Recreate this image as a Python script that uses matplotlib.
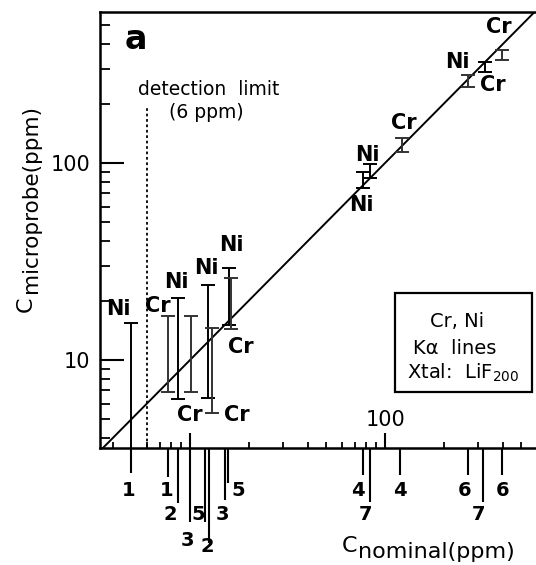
import numpy as np
import matplotlib
matplotlib.use('Agg')
import matplotlib.pyplot as plt
import matplotlib.transforms as mtransforms
from matplotlib.patches import Rectangle

# datos (ppm)
ni_nominal = [5.0, 8.7, 12.4, 15.8, 77, 83.7, 326]
ni_low = [1.0, 6.3, 6.4, 15.0, 74.6, 84, 290]
ni_high = [15.4, 20.6, 24.0, 29.3, 90, 98.9, 326]

cr_nominal = [7.7, 10.1, 13.0, 16.2, 122, 267, 398]
cr_low = [6.9, 6.9, 5.4, 14.4, 114, 243, 333]
cr_high = [16.7, 16.7, 14.5, 26.0, 134, 280, 375]

# etiquetas de los puntos
pt_text = ['Ni', 'Cr', 'Ni', 'Ni', 'Ni', 'Cr', 'Cr', 'Cr',
           'Ni', 'Ni', 'Cr', 'Ni', 'Cr', 'Cr']
pt_x = [4.3, 6.8, 8.5, 12.1, 16.2, 18.3, 10.0, 17.4,
        80.9, 75.4, 124, 234, 358, 385]
pt_y = [18.2, 18.8, 24.9, 29.3, 38.4, 11.6, 5.26, 5.26,
        110, 61, 160, 326, 249, 490]

# valores nominales de cada muestra (marcas bajo el eje)
sample_no = [1, 1, 2, 3, 5, 2, 3, 5, 4, 7, 4, 6, 7, 6]
sample_nominal = [4.95, 7.7, 8.7, 10.0, 11.9, 12.5, 15.1, 15.6,
                  77, 84, 119, 266, 318, 398]
# largo de la marca, desplazamiento del numero (pixeles)
mark_len = [25, 29, 55, 74, 74, 95, 52, 35, 27, 54, 27, 27, 54, 27]
lab_dy = [43, 43, 67, 92, 67, 99, 67, 43, 43, 67, 43, 43, 67, 43]
lab_dx = [-2, -1, -8, -3, -7, -2, -3, 10, -5, -5, 0, -3, -5, 0]

detection = 6

W, H = 536, 565
fig = plt.figure(figsize=(W / 100, H / 100), dpi=100)
ax = fig.add_axes([100 / W, 117 / H, 436 / W, 436 / H])
ax.set_xscale('log')
ax.set_yscale('log')
ax.set_xlim(3.45, 594)
ax.set_ylim(3.57, 584)

for s in ['left', 'bottom', 'top']:
    ax.spines[s].set_linewidth(1.8)
ax.spines['right'].set_visible(False)

# ticks
ax.xaxis.set_major_locator(matplotlib.ticker.FixedLocator([10, 100]))
ax.xaxis.set_minor_locator(matplotlib.ticker.LogLocator(subs=np.arange(2, 10)))
ax.xaxis.set_major_formatter(matplotlib.ticker.NullFormatter())
ax.xaxis.set_minor_formatter(matplotlib.ticker.NullFormatter())
ax.yaxis.set_major_locator(matplotlib.ticker.FixedLocator([10, 100]))
ax.yaxis.set_minor_locator(matplotlib.ticker.LogLocator(subs=np.arange(2, 10)))
ax.yaxis.set_minor_formatter(matplotlib.ticker.NullFormatter())
ax.set_yticklabels(['10', '100'])
ax.tick_params(axis='x', which='major', direction='in', length=11, width=1.5)
ax.tick_params(axis='x', which='minor', direction='in', length=4.5, width=1.3)
ax.tick_params(axis='y', which='major', direction='in', length=17, width=1.5,
               labelsize=15, pad=7)
ax.tick_params(axis='y', which='minor', direction='in', length=7, width=1.3)
trans = mtransforms.blended_transform_factory(ax.transData, ax.transAxes)
ax.text(100, 0.064, '100', transform=trans, ha='center', va='center', fontsize=15)

# linea y = x
ax.plot([1, 1000], [1, 1000], color='black', lw=1.4)

# limite de deteccion
ax.plot([detection, detection], [3.0, 190], color='black', lw=1.3, ls=(0, (1.5, 1.5)))
ax.text(12.4, 235, 'detection  limit', ha='center', va='center', fontsize=13.5)
ax.text(12.1, 181, '(6 ppm)', ha='center', va='center', fontsize=13.5)

# barras de error
ni_nominal = np.array(ni_nominal)
cr_nominal = np.array(cr_nominal)
ni_mid = np.sqrt(np.array(ni_low) * np.array(ni_high))
cr_mid = np.sqrt(np.array(cr_low) * np.array(cr_high))
ax.errorbar(ni_nominal, ni_mid, yerr=[ni_mid - np.array(ni_low), np.array(ni_high) - ni_mid],
            fmt='none', ecolor='black', elinewidth=1.4, capsize=5, capthick=1.4)
ax.errorbar(cr_nominal, cr_mid, yerr=[cr_mid - np.array(cr_low), np.array(cr_high) - cr_mid],
            fmt='none', ecolor='#333333', elinewidth=1.4, capsize=5, capthick=1.4)

for t, x, y in zip(pt_text, pt_x, pt_y):
    ax.text(x, y, t, ha='center', va='center', fontsize=15, fontweight='bold')

# marcas de valor nominal bajo el eje
ax.vlines(sample_nominal, 0, -np.array(mark_len) / 436, transform=trans,
          color='black', lw=1.5, clip_on=False)
for n, x, dx, dy in zip(sample_no, sample_nominal, lab_dx, lab_dy):
    ax.annotate(str(n), xy=(x, 0), xycoords=trans, xytext=(dx, -dy),
                textcoords='offset pixels', ha='center', va='center',
                fontsize=14, fontweight='bold', annotation_clip=False)

# letra del panel
ax.text(0.083, 0.936, 'a', transform=ax.transAxes, ha='center', va='center',
        fontsize=24, fontweight='bold')

# recuadro
ax.add_patch(Rectangle((0.677, 0.128), 0.314, 0.227, transform=ax.transAxes,
                       fill=False, lw=1.6, edgecolor='black'))
ax.text(0.819, 0.291, 'Cr, Ni', transform=ax.transAxes, ha='center', va='center', fontsize=14)
ax.text(0.814, 0.229, 'Kα  lines', transform=ax.transAxes, ha='center', va='center', fontsize=14)
ax.text(0.833, 0.172, r'Xtal:  LiF$_{\mathregular{200}}$', transform=ax.transAxes,
        ha='center', va='center', fontsize=14)

# etiquetas de los ejes
fig.text(357 / W, 1 - 552 / H, 'C', ha='right', va='baseline', fontsize=16)
fig.text(358 / W, 1 - 558 / H, 'nominal(ppm)', ha='left', va='baseline', fontsize=16)
fig.text(26 / W, 1 - 297 / H, 'C', rotation=90, ha='center', va='top', fontsize=16)
fig.text(31 / W, 1 - 293 / H, 'microprobe(ppm)', rotation=90, ha='center', va='bottom', fontsize=15.5)

fig.savefig('out.png', dpi=100)
